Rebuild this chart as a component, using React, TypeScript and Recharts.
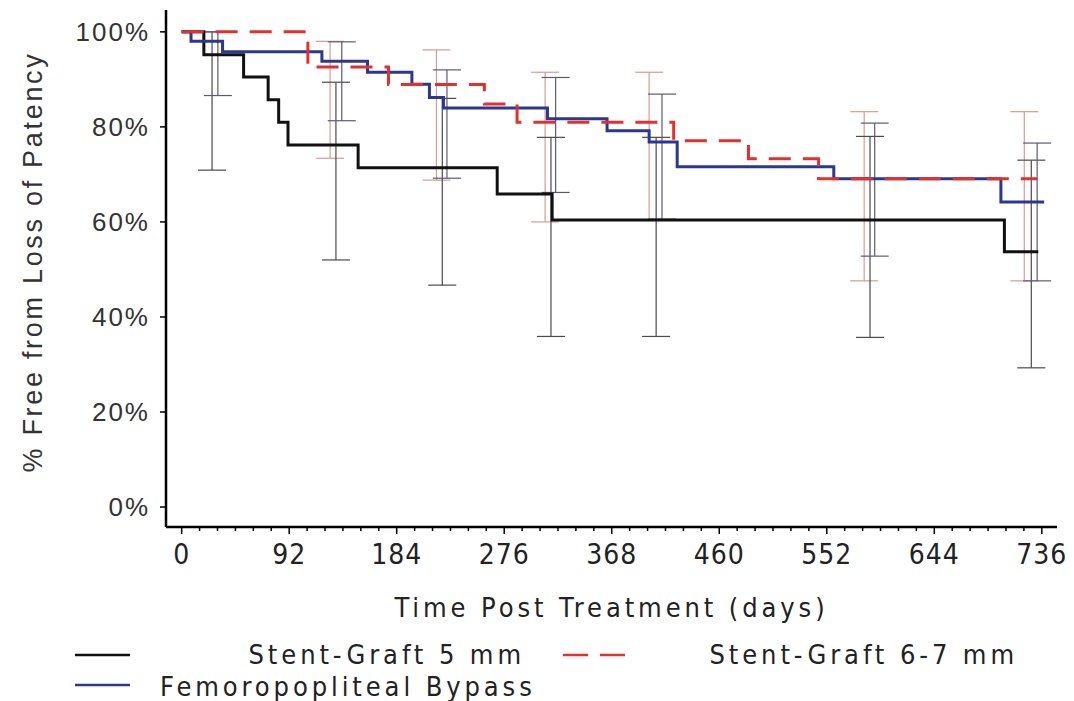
import React from 'react';
import { ComposedChart, Line, Scatter, ErrorBar, XAxis, YAxis } from 'recharts';

// ---- Kaplan-Meier step data (days, % free from loss of patency) ----
const sg5Days = [0, 19, 53, 74, 83, 91, 151, 270, 317, 704, 733];
const sg5Surv = [100, 95.2, 90.5, 85.7, 81.0, 76.2, 71.4, 65.9, 60.4, 53.7, 53.7];

const sg67Days = [0, 108, 177, 259, 287, 421, 485, 545, 732];
const sg67Surv = [100, 92.6, 88.9, 84.8, 81.0, 77.1, 73.3, 69.1, 69.1];

const fpbDays = [0, 8, 35, 120, 159, 197, 212, 224, 313, 364, 400, 424, 558, 701, 738];
const fpbSurv = [100, 98.0, 95.8, 93.8, 91.5, 89.0, 86.2, 84.0, 81.7, 79.2, 76.8, 71.6, 69.1, 64.2, 64.2];

// ---- confidence interval bars ----
const sg5CiDays = [26, 132, 223, 316, 406, 589, 727];
const sg5CiLow = [70.9, 52, 46.7, 35.9, 35.9, 35.7, 29.3];
const sg5CiHigh = [100, 89.4, 86, 77.8, 77.8, 78, 73];

const sg67CiDays = [127, 218, 311, 400, 584, 721];
const sg67CiLow = [73.4, 68.8, 60, 60.4, 47.6, 47.6];
const sg67CiHigh = [98, 96.2, 91.5, 91.5, 83.2, 83.2];

const fpbCiDays = [31, 137, 227, 320, 411, 593, 732];
const fpbCiLow = [86.6, 81.3, 69.2, 66.2, 60.6, 52.8, 47.6];
const fpbCiHigh = [100, 97.9, 92, 90.4, 86.9, 80.8, 76.6];

// ---- axis ticks ----
const xMajorTicks = [0, 92, 184, 276, 368, 460, 552, 644, 736];
const xMinorPerMajor = 6;
const yTicks = [0, 20, 40, 60, 80, 100];

const seriesNames = ['Stent-Graft 5 mm', 'Stent-Graft 6-7 mm', 'Femoropopliteal Bypass'];

const toRows = (days: number[], surv: number[]) => days.map((d, i) => ({ day: d, v: surv[i] }));
const toCi = (days: number[], low: number[], high: number[]) =>
  days.map((d, i) => ({ day: d, v: low[i], e: [0, high[i] - low[i]] }));

const sg5Data = toRows(sg5Days, sg5Surv);
const sg67Data = toRows(sg67Days, sg67Surv);
const fpbData = toRows(fpbDays, fpbSurv);
const sg5Ci = toCi(sg5CiDays, sg5CiLow, sg5CiHigh);
const sg67Ci = toCi(sg67CiDays, sg67CiLow, sg67CiHigh);
const fpbCi = toCi(fpbCiDays, fpbCiLow, fpbCiHigh);

const xAllTicks: number[] = [];
for (let i = 0; i < xMajorTicks.length - 1; i++) {
  const a = xMajorTicks[i];
  const b = xMajorTicks[i + 1];
  for (let k = 0; k < xMinorPerMajor; k++) xAllTicks.push(a + ((b - a) * k) / xMinorPerMajor);
}
xAllTicks.push(xMajorTicks[xMajorTicks.length - 1]);

const X_DOMAIN: [number, number] = [-13.4, 749];
const Y_DOMAIN: [number, number] = [-4.2, 104.6];

const FONT_NARROW = "'Liberation Sans Narrow', 'DejaVu Sans Condensed', 'Liberation Sans', sans-serif";
const FONT_REG = "'Liberation Sans', Arial, sans-serif";

const C_BLACK = '#111111';
const C_RED = '#e2302c';
const C_BLUE = '#2a3894';

const TXT_SIZE = 27;
const TXT_SPACING = 3.9;

const XTick = (props: any) => {
  const { x, y, index } = props;
  const major = index % xMinorPerMajor === 0;
  const label = major ? String(xMajorTicks[index / xMinorPerMajor]) : null;
  return (
    <g>
      <line x1={x} x2={x} y1={y} y2={y + (major ? 7 : 4)} stroke="#000" strokeWidth={1.5} />
      {label !== null && (
        <text x={x} y={y + 37} textAnchor="middle" fontFamily={FONT_NARROW} fontSize={28} fill="#222" letterSpacing={1}>
          {label}
        </text>
      )}
    </g>
  );
};

const Hidden = () => <g />;

export default function App() {
  const W = 1066;
  const H = 693;
  return (
    <div style={{ position: 'relative', width: W, height: H }}>
      <ComposedChart width={W} height={H} margin={{ top: 2, right: 17, bottom: 0, left: 0 }}>
        <XAxis
          dataKey="day"
          type="number"
          domain={X_DOMAIN}
          allowDataOverflow
          ticks={xAllTicks}
          interval={0}
          tickLine={false}
          tickSize={0}
          tickMargin={0}
          tick={<XTick />}
          axisLine={{ stroke: '#000', strokeWidth: 2.5 }}
          height={174}
          label={{
            content: (p: any) => {
              const vb = p.viewBox || { x: 158, y: 519, width: 891 };
              return (
                <text
                  x={vb.x + vb.width / 2}
                  y={vb.y + 90}
                  textAnchor="middle"
                  fontFamily={FONT_NARROW}
                  fontSize={TXT_SIZE}
                  letterSpacing={TXT_SPACING}
                  fill="#222"
                >
                  Time Post Treatment (days)
                </text>
              );
            },
          }}
        />
        <XAxis
          xAxisId="top"
          orientation="top"
          type="number"
          domain={X_DOMAIN}
          allowDataOverflow
          tick={false}
          tickLine={false}
          axisLine={{ stroke: '#000', strokeWidth: 2.5 }}
          height={0}
        />
        <YAxis
          dataKey="v"
          type="number"
          domain={Y_DOMAIN}
          allowDataOverflow
          ticks={yTicks}
          interval={0}
          width={158}
          tickSize={6}
          tickMargin={10}
          tickLine={{ stroke: '#000', strokeWidth: 1.5 }}
          axisLine={{ stroke: '#000', strokeWidth: 2.5 }}
          tickFormatter={(v: number) => `${v}%`}
          tick={{ fontFamily: FONT_REG, fontSize: 26, fill: '#333', letterSpacing: 2 }}
          label={{
            content: () => (
              <text
                transform="translate(34,254) rotate(-90)"
                textAnchor="middle"
                fontFamily={FONT_REG}
                fontSize={27}
                letterSpacing={2.7}
                fill="#333"
              >
                % Free from Loss of Patency
              </text>
            ),
          }}
        />
        <YAxis
          yAxisId="right"
          orientation="right"
          type="number"
          domain={Y_DOMAIN}
          allowDataOverflow
          tick={false}
          tickLine={false}
          width={0}
          axisLine={{ stroke: '#000', strokeWidth: 2.5 }}
        />

        <Scatter data={sg67Ci} dataKey="v" shape={Hidden} isAnimationActive={false} legendType="none">
          <ErrorBar dataKey="e" direction="y" width={14} stroke="#d99a92" strokeWidth={1.2} isAnimationActive={false} />
        </Scatter>
        <Scatter data={sg5Ci} dataKey="v" shape={Hidden} isAnimationActive={false} legendType="none">
          <ErrorBar dataKey="e" direction="y" width={14} stroke="#4a4a4a" strokeWidth={1.2} isAnimationActive={false} />
        </Scatter>
        <Scatter data={fpbCi} dataKey="v" shape={Hidden} isAnimationActive={false} legendType="none">
          <ErrorBar dataKey="e" direction="y" width={14} stroke="#5a5a78" strokeWidth={1.2} isAnimationActive={false} />
        </Scatter>

        <Line
          data={sg5Data}
          dataKey="v"
          name={seriesNames[0]}
          type="stepAfter"
          stroke={C_BLACK}
          strokeWidth={3}
          dot={false}
          activeDot={false}
          isAnimationActive={false}
        />
        <Line
          data={fpbData}
          dataKey="v"
          name={seriesNames[2]}
          type="stepAfter"
          stroke={C_BLUE}
          strokeWidth={3}
          dot={false}
          activeDot={false}
          isAnimationActive={false}
        />
        <Line
          data={sg67Data}
          dataKey="v"
          name={seriesNames[1]}
          type="stepAfter"
          stroke={C_RED}
          strokeWidth={3}
          strokeDasharray="22 12"
          dot={false}
          activeDot={false}
          isAnimationActive={false}
        />
      </ComposedChart>

      <svg width={W} height={H} style={{ position: 'absolute', left: 0, top: 0, pointerEvents: 'none' }}>
        <line x1={67} x2={122} y1={647} y2={647} stroke={C_BLACK} strokeWidth={2.5} />
        <text x={517} y={656} textAnchor="end" fontFamily={FONT_NARROW} fontSize={TXT_SIZE} letterSpacing={TXT_SPACING} fill="#222">
          {seriesNames[0]}
        </text>
        <line x1={555} x2={617} y1={647} y2={647} stroke={C_RED} strokeWidth={2.5} strokeDasharray="25 12" />
        <text x={1010} y={656} textAnchor="end" fontFamily={FONT_NARROW} fontSize={TXT_SIZE} letterSpacing={TXT_SPACING} fill="#222">
          {seriesNames[1]}
        </text>
        <line x1={67} x2={122} y1={677} y2={677} stroke={C_BLUE} strokeWidth={2.5} />
        <text x={152} y={688} textAnchor="start" fontFamily={FONT_NARROW} fontSize={TXT_SIZE} letterSpacing={TXT_SPACING} fill="#222">
          {seriesNames[2]}
        </text>
      </svg>
    </div>
  );
}
